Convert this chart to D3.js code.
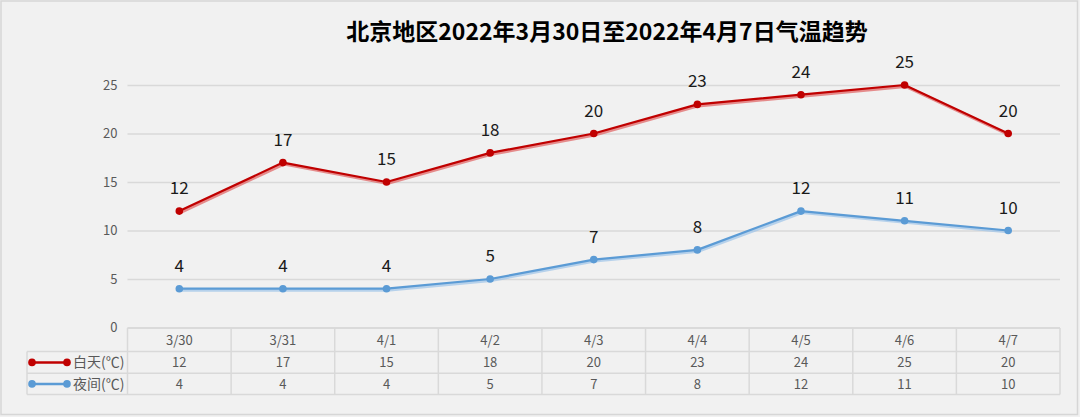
<!DOCTYPE html>
<html><head><meta charset="utf-8">
<script src="https://cdn.jsdelivr.net/npm/d3@7"></script>
<style>
html,body{margin:0;padding:0;background:#fff;}
svg{display:block;}
</style></head>
<body>
<svg id="c" width="1080" height="417"></svg>
<script>
const title = "北京地区2022年3月30日至2022年4月7日气温趋势";
const categories = ["3/30","3/31","4/1","4/2","4/3","4/4","4/5","4/6","4/7"];
const dayTemps = [12,17,15,18,20,23,24,25,20];
const nightTemps = [4,4,4,5,7,8,12,11,10];
const seriesNames = ["白天(℃)","夜间(℃)"];
const yTicks = [0,5,10,15,20,25];

(function(){
const svg = d3.select("#c");
const W = 1080, H = 417;
const plotLeft = 127.5, plotRight = 1060, plotTop = 85, plotBottom = 327.5;
const FONT = "'Noto Sans CJK SC','Open Sans',sans-serif";

svg.append("rect").attr("x",0).attr("y",0).attr("width",W).attr("height",H).attr("fill","#f1f1f1");
svg.append("rect").attr("x",1).attr("y",1).attr("width",1076.5).attr("height",413.5)
  .attr("fill","#f1f1f1").attr("stroke","#d6d6d6").attr("stroke-width",1.5);

const x = d3.scaleBand().domain(categories).range([plotLeft,plotRight]);
const y = d3.scaleLinear().domain([0,25]).range([plotBottom,plotTop]);

svg.append("text").attr("x",607).attr("y",40).attr("text-anchor","middle")
  .attr("font-family",FONT).attr("font-weight","bold").attr("font-size",23)
  .attr("fill","#000").text(title);

const yAxis = d3.axisLeft(y).tickValues(yTicks).tickSize(-(plotRight-plotLeft)).tickPadding(10);
const gy = svg.append("g").attr("transform",`translate(${plotLeft},0)`).call(yAxis);
gy.select(".domain").remove();
gy.selectAll(".tick line").attr("stroke","#d9d9d9").attr("stroke-width",1.5);
gy.selectAll(".tick text").attr("font-family",FONT).attr("font-size",13).attr("fill","#595959");

const rows = [328, 351.5, 373.3, 394.5];
const tg = svg.append("g").attr("stroke","#d9d9d9").attr("stroke-width",1.5).attr("fill","none");
const legendLeft = 27;
tg.append("line").attr("x1",plotLeft).attr("x2",plotRight).attr("y1",rows[0]).attr("y2",rows[0]);
[1,2,3].forEach(i=>tg.append("line").attr("x1",legendLeft).attr("x2",plotRight).attr("y1",rows[i]).attr("y2",rows[i]));
tg.append("line").attr("x1",legendLeft).attr("x2",legendLeft).attr("y1",rows[1]).attr("y2",rows[3]);
const xEdges = categories.map(c=>x(c)).concat([plotRight]);
xEdges.forEach(xe=>tg.append("line").attr("x1",xe).attr("x2",xe).attr("y1",rows[0]).attr("y2",rows[3]));

const cellText = (arr, r) => svg.append("g").selectAll("text").data(categories).join("text")
  .attr("x",c=>x(c)+x.bandwidth()/2).attr("y",(rows[r]+rows[r+1])/2+5)
  .attr("text-anchor","middle").attr("font-family",FONT).attr("font-size",13).attr("fill","#595959")
  .text((c,i)=>arr[i]);
cellText(categories,0);
cellText(dayTemps,1);
cellText(nightTemps,2);

const colors = ["#c00000","#5b9bd5"];
const shadowColors = ["#e06060","#9cc3e8"];
const datasets = [dayTemps, nightTemps];

datasets.forEach((d,i)=>{
  const cy = (rows[i+1]+rows[i+2])/2;
  svg.append("line").attr("x1",32).attr("x2",67).attr("y1",cy).attr("y2",cy)
    .attr("stroke",colors[i]).attr("stroke-width",2.5);
  [32,67].forEach(cx=>svg.append("circle").attr("cx",cx).attr("cy",cy).attr("r",3.8).attr("fill",colors[i]));
  svg.append("text").attr("x",73).attr("y",cy+5).attr("font-family",FONT).attr("font-size",14)
    .attr("fill","#595959").text(seriesNames[i]);
});

const line = d3.line().x((d,i)=>x(categories[i])+x.bandwidth()/2).y(d=>y(d));
datasets.forEach((d,i)=>{
  svg.append("path").datum(d).attr("d",line).attr("fill","none")
    .attr("stroke",shadowColors[i]).attr("stroke-width",3).attr("opacity",0.7)
    .attr("transform","translate(1,1.5)");
  svg.append("path").datum(d).attr("d",line).attr("fill","none")
    .attr("stroke",colors[i]).attr("stroke-width",2.2).attr("stroke-linejoin","round");
  svg.append("g").selectAll("circle").data(d).join("circle")
    .attr("cx",(v,j)=>x(categories[j])+x.bandwidth()/2).attr("cy",v=>y(v)).attr("r",3.8)
    .attr("fill",colors[i]);
  svg.append("g").selectAll("text").data(d).join("text")
    .attr("x",(v,j)=>x(categories[j])+x.bandwidth()/2).attr("y",v=>y(v)-17)
    .attr("text-anchor","middle").attr("font-family",FONT).attr("font-size",17)
    .attr("fill","#1a1a1a").text(v=>v);
});
})();
</script>
</body></html>
